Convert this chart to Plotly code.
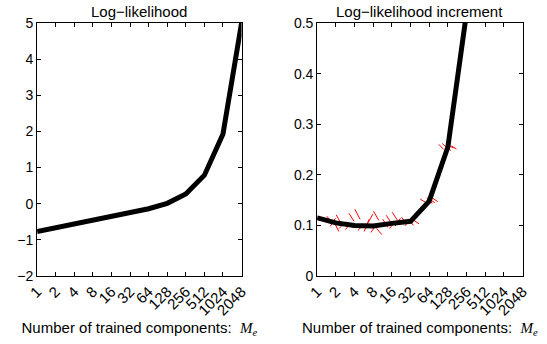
import plotly.graph_objects as go

components = ["1", "2", "4", "8", "16", "32", "64", "128", "256", "512", "1024", "2048"]
loglik = [-0.77, -0.67, -0.55, -0.46, -0.35, -0.25, -0.14, 0.01, 0.27, 0.79, 1.93, 5.0]
increment = [0.115, 0.105, 0.100, 0.099, 0.104, 0.108, 0.148, 0.255, 0.52, 1.12, 3.1]

# individual runs (red): short strokes, each joining two run values, per category 1..256
run_offsets = [-0.48, -0.22, -0.30, -0.02, -0.12, 0.16, 0.02, 0.30, 0.18, 0.46]
runs = [
    [0.119, 0.118, 0.092, 0.088, 0.112, 0.116, 0.152, 0.260, 0.528],
    [0.112, 0.106, 0.104, 0.112, 0.096, 0.104, 0.146, 0.250, 0.518],
    [0.117, 0.098, 0.124, 0.104, 0.120, 0.099, 0.141, 0.262, 0.522],
    [0.113, 0.114, 0.108, 0.122, 0.104, 0.112, 0.150, 0.252, 0.514],
    [0.116, 0.109, 0.096, 0.086, 0.094, 0.113, 0.155, 0.256, 0.524],
    [0.110, 0.088, 0.098, 0.101, 0.108, 0.100, 0.143, 0.248, 0.516],
    [0.118, 0.121, 0.132, 0.128, 0.126, 0.106, 0.151, 0.259, 0.521],
    [0.112, 0.102, 0.112, 0.110, 0.110, 0.117, 0.145, 0.253, 0.517],
    [0.116, 0.094, 0.090, 0.094, 0.099, 0.110, 0.154, 0.257, 0.523],
    [0.113, 0.105, 0.100, 0.082, 0.114, 0.103, 0.147, 0.251, 0.519],
]

pos = list(range(len(components)))

red_x, red_y = [], []
for k in range(len(runs[0])):
    for r, off in enumerate(run_offsets):
        red_x.append(pos[k] + off)
        red_y.append(runs[r][k])
        if r % 2 == 1:
            red_x.append(None)
            red_y.append(None)

fig = go.Figure()
fig.add_trace(go.Scatter(x=pos, y=loglik, mode="lines",
                         line=dict(color="black", width=5), xaxis="x", yaxis="y"))
fig.add_trace(go.Scatter(x=red_x, y=red_y, mode="lines",
                         line=dict(color="red", width=1), xaxis="x2", yaxis="y2"))
fig.add_trace(go.Scatter(x=pos[:len(increment)], y=increment, mode="lines",
                         line=dict(color="black", width=5), xaxis="x2", yaxis="y2"))

font = dict(family="Liberation Sans, Arial, sans-serif", size=14, color="black")
axis_common = dict(showline=True, linecolor="black", linewidth=1, mirror="ticks",
                   ticks="inside", ticklen=4, tickcolor="black", showgrid=False,
                   zeroline=False, tickfont=dict(size=14))

xtitle = ("Number of trained components:\u00a0\u00a0"
          "<span style='font-family:Liberation Serif'><i>M<sub>e</sub></i></span>")

fig.update_layout(
    width=547, height=344,
    margin=dict(l=0, r=0, t=23, b=68),
    paper_bgcolor="white", plot_bgcolor="white",
    showlegend=False, font=font,
    xaxis=dict(axis_common, domain=[28/547, 239/547], range=[0, 11],
               tickvals=pos, ticktext=components, tickangle=-45, anchor="y",
               tickfont=dict(size=15),
               title=dict(text=xtitle, font=dict(size=15), standoff=4)),
    yaxis=dict(axis_common, domain=[0, 1], range=[-2, 5], dtick=1, anchor="x"),
    xaxis2=dict(axis_common, domain=[317/547, 529/547], range=[0, 11],
                tickvals=pos, ticktext=components, tickangle=-45, anchor="y2",
                tickfont=dict(size=15),
                title=dict(text=xtitle, font=dict(size=15), standoff=4)),
    yaxis2=dict(axis_common, domain=[0, 1], range=[0, 0.5], dtick=0.1, anchor="x2"),
    annotations=[
        dict(text="Log\u2212likelihood", x=(28 + 239) / 2 / 547, y=1, xref="paper", yref="paper",
             xanchor="center", yanchor="bottom", yshift=1, showarrow=False, font=dict(size=15)),
        dict(text="Log\u2212likelihood increment", x=(317 + 529) / 2 / 547, y=1, xref="paper",
             yref="paper", xanchor="center", yanchor="bottom", yshift=1, showarrow=False,
             font=dict(size=15)),
    ],
)

fig.write_html("out.html")
